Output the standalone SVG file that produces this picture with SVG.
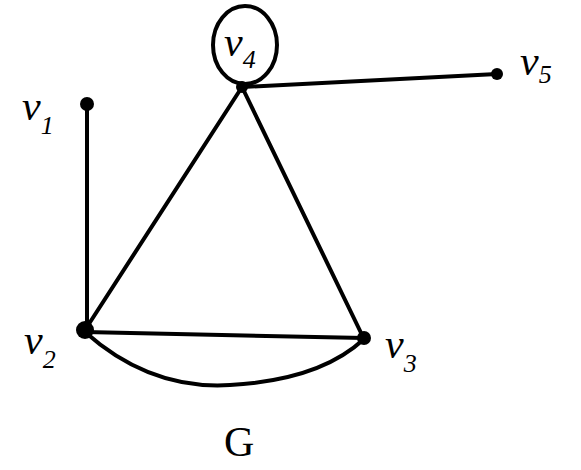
<svg xmlns="http://www.w3.org/2000/svg" width="581" height="470" viewBox="0 0 581 470">
<style>
.e{stroke:#000;stroke-width:4;fill:none;stroke-linecap:round}
.v{fill:#000}
.l{font-family:"Liberation Serif",serif;font-style:italic;font-size:42px;fill:#000}
.s{font-size:26px}
</style>
<rect width="581" height="470" fill="#fff"/>
<g id="edges">
<ellipse class="e" cx="245" cy="45" rx="32" ry="39"/>
<path class="e" d="M242 87 L497 74"/>
<path class="e" d="M87 104 L87 328"/>
<path class="e" d="M85 330 L242 87"/>
<path class="e" d="M242 87 L364 339"/>
<path class="e" d="M85 332 L364 338" stroke-width="6"/>
<path class="e" d="M85 332 Q 150 390 230 385 Q 320 380 364 339"/>
</g>
<g id="v1"><circle class="v" cx="87" cy="104" r="7"/><text class="l" x="22" y="120">v<tspan class="s" dy="14">1</tspan></text></g>
<g id="v2"><circle class="v" cx="85" cy="330" r="9"/><text class="l" x="24" y="354">v<tspan class="s" dy="14">2</tspan></text></g>
<g id="v3"><circle class="v" cx="364" cy="338" r="7"/><text class="l" x="385" y="358">v<tspan class="s" dy="14">3</tspan></text></g>
<g id="v4"><circle class="v" cx="242" cy="87" r="6"/><text class="l" x="224" y="56">v<tspan class="s" dy="12">4</tspan></text></g>
<g id="v5"><circle class="v" cx="497" cy="74" r="6"/><text class="l" x="520" y="75">v<tspan class="s" dy="8">5</tspan></text></g>
<text class="l" x="224" y="456" style="font-style:normal">G</text>
</svg>
